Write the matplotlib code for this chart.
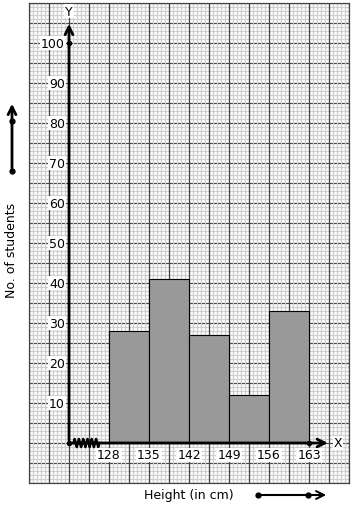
import numpy as np
import matplotlib.pyplot as plt
from matplotlib.patches import FancyArrowPatch

# histogram data
bin_edges = [128, 135, 142, 149, 156, 163]
students = [28, 41, 27, 12, 33]
y_ticks = [10, 20, 30, 40, 50, 60, 70, 80, 90, 100]

fig = plt.figure(figsize=(3.54, 5.10), dpi=100)
ax = fig.add_axes([29 / 354, 26 / 510, 320 / 354, 480 / 510])

x0, x1 = 114, 170
y0, y1 = -10, 110
ax.set_xlim(x0, x1)
ax.set_ylim(y0, y1)

# graph paper: major horizontals first, then minor lines, then major verticals
for y in np.arange(y0, y1 + 0.01, 5):
    ax.axhline(y, color='#444444', lw=0.9, zorder=0)
for x in np.arange(x0, x1 + 0.01, 0.7):
    ax.axvline(x, color='#cfcfcf', lw=0.9, zorder=0.5)
for y in np.arange(y0, y1 + 0.01, 1):
    if y % 5:
        ax.axhline(y, color='#cfcfcf', lw=0.9, zorder=0.5)
for x in np.arange(x0, x1 + 0.01, 3.5):
    ax.axvline(x, color='#444444', lw=0.9, zorder=1)

# bars
widths = np.diff(bin_edges)
ax.bar(bin_edges[:-1], students, width=widths, align='edge',
       color='#999999', edgecolor='black', lw=0.8, zorder=2)

# axes with arrows
ax.annotate('', xy=(121, 105.5), xytext=(121, 0),
            arrowprops=dict(arrowstyle='->', lw=2, color='black',
                            mutation_scale=14), zorder=4)
ax.annotate('', xy=(166.8, 0), xytext=(121, 0),
            arrowprops=dict(arrowstyle='->', lw=2, color='black',
                            mutation_scale=14), zorder=4)
ax.plot([121, 121, 163], [0, 100, 0], 'o', color='black', ms=3, zorder=5)

# break mark on x axis
zx = np.linspace(121.8, 126.3, 25)
zy = np.tile([0, 1, 0, -1], 7)[:len(zx)]
ax.plot(zx, zy, color='black', lw=1.8, zorder=5)

ax.text(121, 108, 'Y', ha='center', va='center', fontsize=9,
        bbox=dict(facecolor='white', edgecolor='none', pad=0.5), zorder=6)
ax.text(168.1, 0, 'X', ha='center', va='center', fontsize=9,
        bbox=dict(facecolor='white', edgecolor='none', pad=0.5), zorder=6)

for v in y_ticks:
    ax.text(120.3, v, str(v), ha='right', va='center', fontsize=9,
            bbox=dict(facecolor='white', edgecolor='none', pad=0.5), zorder=6)
for v in bin_edges:
    ax.text(v, -3, str(v), ha='center', va='center', fontsize=9,
            bbox=dict(facecolor='white', edgecolor='none', pad=0.5), zorder=6)

ax.set_xticks([])
ax.set_yticks([])
for s in ax.spines.values():
    s.set_color('#444444')
    s.set_linewidth(0.9)

# labels and direction arrows outside the grid
fig.text(12 / 354, 1 - 250 / 510, 'No. of students', rotation=90,
         ha='center', va='center', fontsize=9)
fig.text(189 / 354, 1 - 496 / 510, 'Height (in cm)',
         ha='center', va='center', fontsize=9)
fig.patches.append(FancyArrowPatch(
    (12 / 354, 1 - 172 / 510), (12 / 354, 1 - 102 / 510),
    transform=fig.transFigure, arrowstyle='->', lw=2, color='black',
    mutation_scale=14))
fig.patches.append(FancyArrowPatch(
    (258 / 354, 1 - 496 / 510), (329 / 354, 1 - 496 / 510),
    transform=fig.transFigure, arrowstyle='->', lw=1.5, color='black',
    mutation_scale=14))
fig.add_artist(plt.Line2D([12 / 354, 12 / 354], [1 - 172 / 510, 1 - 122 / 510],
                          transform=fig.transFigure, ls='none', marker='o',
                          ms=3.5, color='black'))
fig.add_artist(plt.Line2D([258 / 354, 308 / 354], [1 - 496 / 510, 1 - 496 / 510],
                          transform=fig.transFigure, ls='none', marker='o',
                          ms=3.5, color='black'))

fig.savefig('out.png', dpi=100)
